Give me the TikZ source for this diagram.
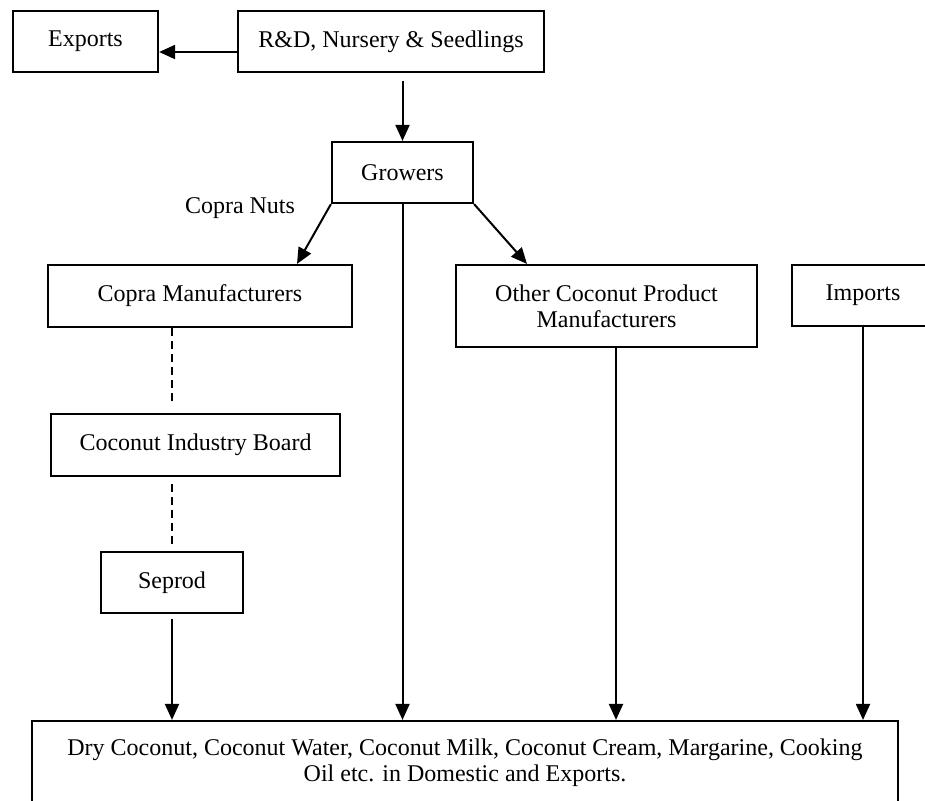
\documentclass[tikz,border=0pt]{standalone}
\usepackage{fontspec}
\setmainfont{Liberation Serif}
\usepackage{tikz}
\usetikzlibrary{positioning,arrows.meta,calc}

\begin{document}
\begin{tikzpicture}[
  x=0.5pt, y=-0.5pt,
  font=\fontsize{12}{13}\selectfont,
  box/.style={draw, line width=1.1pt, align=center, inner sep=2pt},
  small/.style={box, minimum width=71pt, minimum height=30.5pt},
  wide/.style={box, minimum width=152pt, minimum height=31pt},
  arr/.style={-{Triangle[length=8pt, width=7pt]}, line width=1pt},
  link/.style={line width=1pt, dash pattern=on 4pt off 2.5pt}]
\useasboundingbox (0,0) rectangle (925,800);

\node[small, minimum width=72.5pt] (exports) at (85.5,41.5) {Exports};
\node[wide, minimum width=153pt, minimum height=30.5pt] (rnd) at (391,41.5) {R\&D, Nursery \& Seedlings};
\node[small, minimum width=70.5pt] (growers) at (402.5,172.5) {Growers};
\node (nuts) at (240,208) {Copra Nuts};
\node[wide] (copra) at (200,296) {Copra Manufacturers};
\node[wide, minimum width=150.5pt, minimum height=41pt] (other) at (606.5,306) {Other Coconut Product\\Manufacturers};
\node[small] (imports) at (863,295.5) {Imports};
\node[wide, minimum width=144.5pt] (cib) at (195.5,445) {Coconut Industry Board};
\node[small] (seprod) at (172,582.5) {Seprod};
\node[box, minimum width=433pt, minimum height=42pt] (final) at (465,763)
  {Dry Coconut, Coconut Water, Coconut Milk, Coconut Cream, Margarine, Cooking\\Oil etc. in Domestic and Exports.};

\draw[arr] ([yshift=-5.25pt]rnd.west) -- ([yshift=-5.25pt]exports.east);
\draw[arr] ([yshift=-4pt]rnd.south -| growers.north) -- (growers.north);
\draw[arr] (growers.south west) -- (copra.north -| 297,0);
\draw[arr] (growers.south east) -- (other.north -| 527,0);
\draw[arr] (growers.south) -- (final.north -| growers.south);
\draw[arr] (other.south -| 616,0) -- (final.north -| 616,0);
\draw[arr] (imports.south) -- (final.north -| imports.south);
\draw[link] (copra.south -| seprod.north) -- ([yshift=6pt]cib.north -| seprod.north);
\draw[link] ([yshift=-3.5pt]cib.south -| seprod.north) -- ([yshift=2.5pt]seprod.north);
\draw[arr] ([yshift=-2.5pt]seprod.south) -- (final.north -| seprod.south);
\end{tikzpicture}
\end{document}
